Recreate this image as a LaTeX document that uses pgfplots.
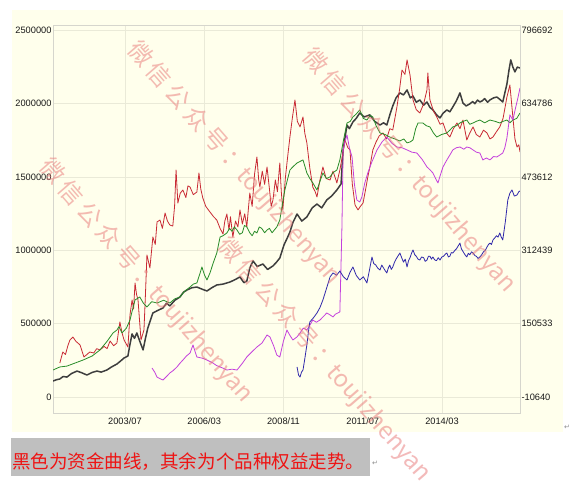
\documentclass[border=0pt]{standalone}
\usepackage{pgfplots}
\pgfplotsset{compat=1.18}
\usepackage{fontspec}
\setmainfont{Liberation Sans}
\newfontfamily\cjk{Noto Sans CJK SC}
\newfontfamily\wmcjk[LetterSpace=20]{Noto Sans CJK SC}
\newfontfamily\wmlat{Noto Sans CJK SC}
\newfontfamily\dvs{DejaVu Sans}
\definecolor{ivory}{RGB}{255,255,236}
\definecolor{gridc}{RGB}{234,234,216}
\definecolor{borderc}{RGB}{214,214,205}
\definecolor{capgray}{RGB}{191,191,191}
\definecolor{cblack}{RGB}{62,62,62}
\definecolor{cred}{RGB}{200,42,52}
\definecolor{cgreen}{RGB}{40,140,40}
\definecolor{cpurple}{RGB}{196,64,220}
\definecolor{cblue}{RGB}{48,40,170}
\definecolor{wmc}{RGB}{232,118,118}
\begin{document}
\begin{tikzpicture}
\useasboundingbox (0,0) rectangle (579bp,486bp);
\fill[white] (0,0) rectangle (579bp,486bp);
\fill[ivory] (12bp,54bp) rectangle (563bp,476bp);
\begin{axis}[
  at={(53bp,73bp)}, anchor=south west,
  width=467bp, height=388bp, scale only axis,
  xmin=2001.08, xmax=2016.79, ymin=-109, ymax=2537,
  axis line style={draw=borderc},
  grid=major, major grid style={draw=gridc, line width=0.6bp},
  major tick length=0pt,
  xtick={2003.5,2006.1667,2008.8333,2011.5,2014.1667},
  xticklabels={2003/07,2006/03,2008/11,2011/07,2014/03},
  ytick={0,500,1000,1500,2000,2500},
  yticklabels={0,500000,1000000,1500000,2000000,2500000},
  /pgf/number format/assume math mode=true,
  tick label style={font=\fontsize{9.3}{11}\selectfont, text=black!90},
  yticklabel style={xshift=2bp},
  xticklabel style={yshift=-1bp},
  every axis plot/.append style={line join=round, no marks},
]
% capital curve (black)
\addplot[cblack, line width=1.5bp] coordinates {
(2001.08,109)(2001.2,118)(2001.31,123)(2001.42,140)(2001.55,136)(2001.7,160)(2001.89,177)(2002.05,165)(2002.22,150)(2002.4,168)(2002.56,177)(2002.7,170)(2002.89,184)(2003.05,205)(2003.23,225)(2003.35,245)(2003.47,266)(2003.60,280)(2003.67,360)(2003.74,430)(2003.82,400)(2003.90,437)(2004.0,380)(2004.11,321)(2004.19,400)(2004.27,471)(2004.35,520)(2004.44,573)(2004.6,590)(2004.78,607)(2004.9,640)(2005.01,621)(2005.18,660)(2005.35,682)(2005.47,715)(2005.59,730)(2005.75,745)(2005.92,750)(2006.1,735)(2006.26,723)(2006.42,745)(2006.59,764)(2006.8,770)(2007.03,784)(2007.2,800)(2007.37,819)(2007.5,780)(2007.60,791)(2007.7,880)(2007.81,928)(2007.95,890)(2008.14,907)(2008.3,870)(2008.48,894)(2008.6,920)(2008.71,948)(2008.85,1037)(2008.95,1080)(2009.05,1125)(2009.15,1190)(2009.29,1248)(2009.45,1200)(2009.62,1228)(2009.8,1290)(2009.96,1316)(2010.12,1290)(2010.29,1344)(2010.45,1370)(2010.63,1412)(2010.77,1453)(2010.84,1685)(2010.97,1855)(2011.05,1830)(2011.17,1876)(2011.28,1900)(2011.40,1937)(2011.55,1910)(2011.74,1924)(2011.9,1880)(2012.08,1855)(2012.2,1870)(2012.31,1855)(2012.42,1930)(2012.51,1985)(2012.62,2040)(2012.75,2074)(2012.87,2060)(2012.99,2094)(2013.1,2040)(2013.19,2053)(2013.3,2010)(2013.42,2026)(2013.55,1990)(2013.66,2012)(2013.76,1975)(2013.86,1958)(2013.98,1925)(2014.10,1903)(2014.2,1935)(2014.33,1958)(2014.43,1945)(2014.53,1978)(2014.65,2020)(2014.77,2074)(2014.87,2005)(2014.98,1985)(2015.10,1999)(2015.2,2015)(2015.27,2000)(2015.36,2025)(2015.44,2012)(2015.52,2020)(2015.6,2035)(2015.7,2010)(2015.78,2026)(2015.9,2040)(2016.01,2046)(2016.11,2030)(2016.21,2012)(2016.35,2135)(2016.42,2230)(2016.48,2299)(2016.55,2250)(2016.62,2217)(2016.7,2250)(2016.79,2244)
};
% red
\addplot[cred, line width=0.8bp] coordinates {
(2001.31,232)(2001.41,307)(2001.5,290)(2001.58,350)(2001.65,389)(2001.75,409)(2001.85,380)(2001.99,355)(2002.12,273)(2002.22,290)(2002.32,307)(2002.45,300)(2002.55,330)(2002.66,321)(2002.8,345)(2002.9,330)(2003.00,382)(2003.12,350)(2003.23,368)(2003.33,512)(2003.40,440)(2003.47,389)(2003.60,341)(2003.67,560)(2003.74,662)(2003.79,600)(2003.84,778)(2003.89,700)(2003.94,662)(2004.04,389)(2004.14,457)(2004.19,700)(2004.24,969)(2004.34,880)(2004.44,1091)(2004.52,1040)(2004.58,1194)(2004.68,1207)(2004.76,1150)(2004.85,1255)(2004.93,1200)(2005.01,1173)(2005.11,1166)(2005.17,1300)(2005.22,1548)(2005.28,1323)(2005.36,1390)(2005.45,1412)(2005.55,1360)(2005.62,1440)(2005.69,1432)(2005.8,1380)(2005.92,1398)(2005.99,1528)(2006.05,1420)(2006.12,1357)(2006.22,1300)(2006.36,1262)(2006.48,1230)(2006.59,1207)(2006.7,1150)(2006.80,1112)(2006.86,1200)(2006.93,1248)(2007.0,1140)(2007.05,1230)(2007.13,1091)(2007.22,1200)(2007.3,1160)(2007.37,1276)(2007.45,1180)(2007.53,1250)(2007.60,1160)(2007.66,1300)(2007.70,1391)(2007.78,1300)(2007.86,1520)(2007.94,1637)(2008.0,1480)(2008.04,1432)(2008.12,1540)(2008.2,1450)(2008.28,1569)(2008.36,1420)(2008.42,1300)(2008.48,1344)(2008.56,1480)(2008.63,1400)(2008.71,1596)(2008.76,1400)(2008.81,1276)(2008.9,1500)(2008.98,1650)(2009.05,1773)(2009.13,1900)(2009.22,2026)(2009.3,1880)(2009.39,1842)(2009.49,1910)(2009.55,1800)(2009.62,1733)(2009.72,1560)(2009.82,1432)(2009.9,1400)(2009.96,1364)(2010.06,1480)(2010.16,1569)(2010.27,1490)(2010.40,1480)(2010.5,1540)(2010.63,1460)(2010.73,1548)(2010.82,1650)(2010.90,1753)(2011.0,1700)(2011.07,1685)(2011.15,1450)(2011.24,1310)(2011.34,1276)(2011.42,1300)(2011.51,1323)(2011.6,1420)(2011.67,1500)(2011.74,1569)(2011.84,1685)(2011.95,1740)(2012.05,1780)(2012.18,1801)(2012.3,1760)(2012.41,1830)(2012.51,1821)(2012.65,1978)(2012.74,2100)(2012.82,2230)(2012.92,2200)(2012.99,2299)(2013.09,2196)(2013.19,2026)(2013.3,1960)(2013.42,1937)(2013.55,2000)(2013.66,2094)(2013.69,2210)(2013.76,2026)(2013.88,1950)(2013.99,1910)(2014.1,1860)(2014.20,1869)(2014.32,1800)(2014.43,1773)(2014.55,1830)(2014.67,1869)(2014.77,1830)(2014.87,1889)(2015.00,1753)(2015.1,1800)(2015.21,1842)(2015.32,1790)(2015.44,1773)(2015.56,1820)(2015.68,1801)(2015.78,1760)(2015.88,1773)(2016.0,1810)(2016.11,1842)(2016.22,1900)(2016.35,2046)(2016.45,2128)(2016.55,1910)(2016.62,1760)(2016.69,1705)(2016.75,1720)(2016.79,1671)
};
% green
\addplot[cgreen, line width=0.8bp] coordinates {
(2001.08,184)(2001.31,205)(2001.55,211)(2001.8,230)(2002.09,252)(2002.4,280)(2002.66,321)(2002.9,380)(2003.10,437)(2003.23,457)(2003.30,480)(2003.40,437)(2003.55,470)(2003.67,525)(2003.76,600)(2003.84,662)(2004.00,682)(2004.12,640)(2004.24,614)(2004.4,650)(2004.58,641)(2004.8,660)(2005.01,641)(2005.18,670)(2005.35,682)(2005.5,720)(2005.69,750)(2005.8,770)(2005.92,778)(2006.02,840)(2006.09,887)(2006.18,830)(2006.26,798)(2006.36,846)(2006.48,920)(2006.59,982)(2006.70,1091)(2006.8,1100)(2006.93,1119)(2007.02,1150)(2007.1,1130)(2007.18,1160)(2007.27,1139)(2007.36,1110)(2007.45,1120)(2007.52,1170)(2007.60,1160)(2007.7,1120)(2007.78,1100)(2007.86,1130)(2007.94,1119)(2008.02,1160)(2008.1,1150)(2008.2,1120)(2008.28,1139)(2008.36,1150)(2008.45,1120)(2008.53,1140)(2008.61,1160)(2008.71,1207)(2008.8,1320)(2008.88,1412)(2009.05,1548)(2009.15,1570)(2009.29,1596)(2009.49,1617)(2009.62,1528)(2009.72,1490)(2009.82,1460)(2009.96,1412)(2010.06,1470)(2010.16,1528)(2010.28,1490)(2010.40,1501)(2010.5,1530)(2010.63,1548)(2010.73,1617)(2010.85,1750)(2010.97,1869)(2011.08,1880)(2011.17,1910)(2011.28,1930)(2011.40,1958)(2011.52,1900)(2011.64,1889)(2011.75,1920)(2011.84,1910)(2011.95,1850)(2012.08,1801)(2012.25,1790)(2012.41,1773)(2012.58,1760)(2012.75,1746)(2012.88,1760)(2012.99,1733)(2013.1,1740)(2013.19,1753)(2013.28,1830)(2013.36,1869)(2013.52,1869)(2013.64,1850)(2013.76,1842)(2013.88,1800)(2013.99,1773)(2014.15,1790)(2014.33,1801)(2014.43,1820)(2014.53,1842)(2014.65,1850)(2014.77,1869)(2014.88,1880)(2015.00,1889)(2015.1,1860)(2015.21,1869)(2015.32,1880)(2015.44,1889)(2015.6,1870)(2015.78,1889)(2015.95,1880)(2016.11,1869)(2016.22,1880)(2016.35,1889)(2016.45,1870)(2016.55,1889)(2016.68,1900)(2016.79,1937)
};
% purple
\addplot[cpurple, line width=0.8bp] coordinates {
(2004.41,198)(2004.50,170)(2004.58,136)(2004.68,125)(2004.78,116)(2004.9,140)(2005.01,164)(2005.12,180)(2005.25,205)(2005.35,230)(2005.45,252)(2005.57,280)(2005.69,300)(2005.79,355)(2005.86,310)(2005.92,273)(2006.1,265)(2006.26,252)(2006.46,232)(2006.58,215)(2006.70,205)(2006.82,195)(2006.93,184)(2007.1,190)(2007.27,184)(2007.45,230)(2007.60,273)(2007.78,310)(2007.94,341)(2008.11,368)(2008.28,423)(2008.38,409)(2008.5,350)(2008.61,286)(2008.71,273)(2008.83,380)(2008.95,457)(2009.05,420)(2009.15,389)(2009.29,410)(2009.39,437)(2009.50,470)(2009.62,457)(2009.72,490)(2009.82,525)(2009.94,510)(2010.06,525)(2010.18,550)(2010.29,573)(2010.40,560)(2010.50,546)(2010.58,565)(2010.66,573)(2010.73,580)(2010.80,1160)(2010.84,1685)(2010.90,1740)(2010.97,1787)(2011.05,1700)(2011.14,1637)(2011.22,1450)(2011.30,1344)(2011.40,1330)(2011.47,1364)(2011.57,1460)(2011.67,1528)(2011.8,1600)(2011.98,1685)(2012.15,1740)(2012.31,1773)(2012.48,1730)(2012.65,1705)(2012.82,1700)(2012.99,1685)(2013.15,1670)(2013.32,1664)(2013.5,1620)(2013.66,1569)(2013.76,1550)(2013.86,1528)(2013.95,1490)(2014.03,1460)(2014.12,1520)(2014.20,1569)(2014.33,1617)(2014.43,1650)(2014.53,1685)(2014.65,1700)(2014.77,1705)(2014.9,1690)(2015.00,1705)(2015.1,1700)(2015.21,1685)(2015.32,1670)(2015.44,1664)(2015.54,1617)(2015.66,1630)(2015.78,1617)(2015.9,1640)(2016.01,1637)(2016.11,1650)(2016.21,1664)(2016.28,1700)(2016.35,1767)(2016.45,1924)(2016.55,1889)(2016.65,1980)(2016.72,2040)(2016.79,2108)
};
% blue
\addplot[cblue, line width=0.8bp] coordinates {
(2009.29,205)(2009.34,150)(2009.39,136)(2009.44,170)(2009.49,184)(2009.55,260)(2009.62,355)(2009.67,440)(2009.72,512)(2009.84,540)(2009.96,573)(2010.06,610)(2010.16,662)(2010.28,740)(2010.40,819)(2010.50,846)(2010.62,830)(2010.73,859)(2010.85,820)(2010.97,798)(2011.07,850)(2011.17,887)(2011.28,830)(2011.40,798)(2011.52,820)(2011.64,778)(2011.72,860)(2011.81,955)(2011.87,910)(2011.94,900)(2012.0,880)(2012.08,866)(2012.14,900)(2012.2,880)(2012.26,860)(2012.31,846)(2012.36,880)(2012.41,900)(2012.46,870)(2012.51,887)(2012.57,920)(2012.62,940)(2012.68,960)(2012.75,982)(2012.81,950)(2012.87,920)(2012.93,940)(2012.99,887)(2013.04,930)(2013.09,950)(2013.14,980)(2013.19,1003)(2013.25,970)(2013.3,960)(2013.36,940)(2013.42,934)(2013.48,955)(2013.55,950)(2013.6,925)(2013.66,934)(2013.71,960)(2013.76,960)(2013.81,940)(2013.86,955)(2013.92,935)(2013.98,930)(2014.04,950)(2014.10,934)(2014.16,955)(2014.22,960)(2014.28,975)(2014.33,982)(2014.38,955)(2014.43,960)(2014.48,985)(2014.53,982)(2014.6,1000)(2014.65,1010)(2014.71,1030)(2014.77,1050)(2014.82,1010)(2014.88,990)(2014.94,970)(2015.00,955)(2015.05,980)(2015.1,970)(2015.16,990)(2015.21,982)(2015.27,965)(2015.32,960)(2015.38,945)(2015.44,955)(2015.5,970)(2015.56,990)(2015.62,1000)(2015.68,1023)(2015.73,1040)(2015.78,1050)(2015.83,1040)(2015.88,1071)(2015.94,1085)(2016.0,1100)(2016.05,1090)(2016.11,1119)(2016.16,1090)(2016.21,1071)(2016.3,1200)(2016.38,1344)(2016.45,1390)(2016.52,1412)(2016.6,1370)(2016.69,1378)(2016.75,1400)(2016.79,1405)
};
\end{axis}
\begin{axis}[
  at={(53bp,73bp)}, anchor=south west,
  width=467bp, height=388bp, scale only axis,
  xmin=2001.08, xmax=2016.79, ymin=-109, ymax=2537,
  axis x line=none, axis y line*=right,
  axis line style={draw=borderc},
  major tick length=0pt,
  ytick={0,500,1000,1500,2000,2500},
  yticklabels={-10640,150533,312439,473612,634786,796692},
  tick label style={font=\fontsize{9.3}{11}\selectfont, text=black!90},
  yticklabel style={xshift=-2bp},
]
\end{axis}
% watermarks
\begin{scope}[every node/.style={text=wmc, opacity=0.5, rotate=-49, anchor=west, inner sep=0pt, font=\fontsize{24}{26}\selectfont}]
\node at (131.5bp,440.8bp) {{\wmcjk 微信公众号：}{\wmlat toujizhenyan}};
\node at (43.5bp,323bp) {{\wmcjk 微信公众号：}{\wmlat toujizhenyan}};
\node at (306.5bp,433bp) {{\wmcjk 微信公众号：}{\wmlat toujizhenyan}};
\node at (221.5bp,244bp) {{\wmcjk 微信公众号：}{\wmlat toujizhenyan}};
\end{scope}
% caption
\fill[capgray] (11bp,10.3bp) rectangle (370bp,48.3bp);
\node[anchor=base west, inner sep=0pt, text={rgb,255:red,238;green,20;blue,20}, font=\cjk\fontsize{18.6}{20}\selectfont] at (12bp,18bp) {黑色为资金曲线，其余为个品种权益走势。};
\node[anchor=center, inner sep=0pt, text=black!45, font=\dvs\fontsize{7}{8}\selectfont] at (375bp,23bp) {↵};
\node[anchor=center, inner sep=0pt, text=black!45, font=\dvs\fontsize{7}{8}\selectfont] at (567bp,59bp) {↵};
\end{tikzpicture}
\end{document}
